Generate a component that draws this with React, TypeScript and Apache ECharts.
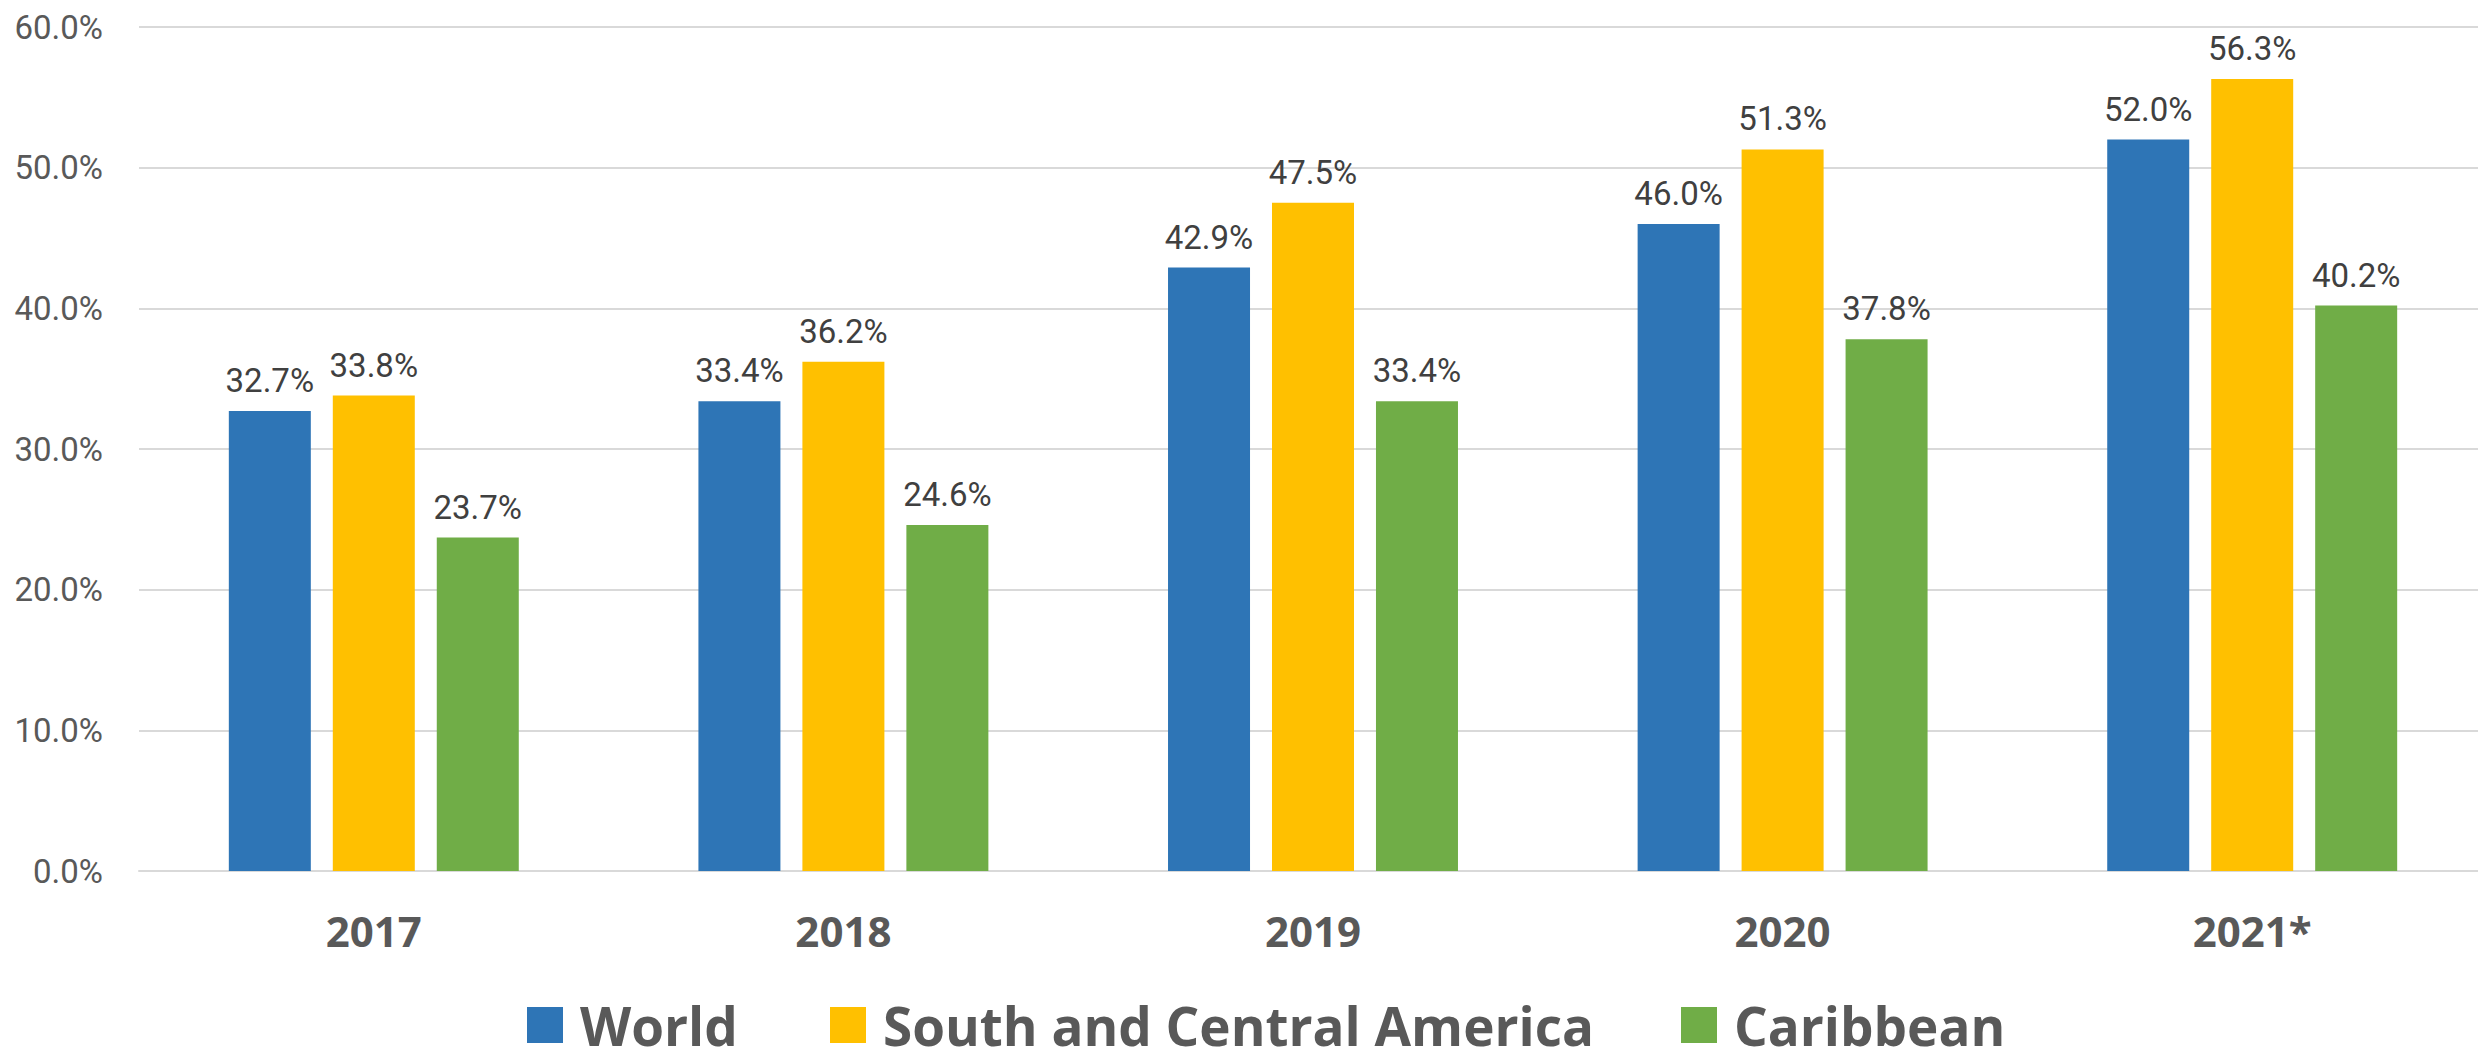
import React, { useEffect, useRef } from "react";
import * as echarts from "echarts";

const categories = ["2017", "2018", "2019", "2020", "2021*"];
const seriesNames = ["World", "South and Central America", "Caribbean"];
const worldValues = [32.7, 33.4, 42.9, 46.0, 52.0];
const southCentralValues = [33.8, 36.2, 47.5, 51.3, 56.3];
const caribbeanValues = [23.7, 24.6, 33.4, 37.8, 40.2];
const colors = ["#2E75B6", "#FFC000", "#70AD47"];
const legendLefts = [527, 830, 1681];

const LABEL_FONT = "'Liberation Sans Narrow', Roboto, sans-serif";
const BOLD_FONT = "'Open Sans', 'Noto Sans', sans-serif";

export default function App() {
  const ref = useRef<HTMLDivElement>(null);
  useEffect(() => {
    if (!ref.current) return;
    const chart = echarts.init(ref.current, undefined, { renderer: "svg" });
    const values = [worldValues, southCentralValues, caribbeanValues];
    chart.setOption({
      animation: false,
      grid: { left: 139, right: 0, top: 27, bottom: 177, containLabel: false },
      legend: seriesNames.map((n, i) => ({
        data: [n],
        left: legendLefts[i],
        top: 998,
        padding: 0,
        icon: "rect",
        itemWidth: 36,
        itemHeight: 36,
        selectedMode: false,
        textStyle: {
          fontFamily: BOLD_FONT,
          fontWeight: "bold",
          fontSize: 53,
          color: "#595959",
          lineHeight: 36,
          padding: [0, 0, 18, 12],
        },
      })),
      xAxis: {
        type: "category",
        data: categories,
        axisLine: { show: true, lineStyle: { color: "#D9D9D9", width: 2 } },
        axisTick: { show: false },
        axisLabel: {
          fontFamily: BOLD_FONT,
          fontWeight: "bold",
          fontSize: 42,
          color: "#595959",
          margin: 38,
        },
      },
      yAxis: {
        type: "value",
        min: 0,
        max: 60,
        interval: 10,
        axisLine: { show: false },
        axisTick: { show: false },
        splitLine: { lineStyle: { color: "#D9D9D9", width: 2 } },
        axisLabel: {
          fontFamily: LABEL_FONT,
          fontSize: 33,
          color: "#595959",
          margin: 36,
          formatter: (v: number) => v.toFixed(1) + "%",
        },
      },
      series: seriesNames.map((n, i) => ({
        name: n,
        type: "bar",
        data: values[i],
        barWidth: 82,
        barGap: "26.8%",
        itemStyle: { color: colors[i] },
        label: {
          show: true,
          position: "top",
          distance: 14,
          fontFamily: LABEL_FONT,
          fontSize: 33,
          color: "#404040",
          formatter: (p: any) => Number(p.value).toFixed(1) + "%",
        },
      })),
    });
    return () => chart.dispose();
  }, []);
  return (
    <div style={{ position: "absolute", left: 0, top: 0, width: 2478, height: 1048, overflow: "hidden", background: "#fff" }}>
      <div ref={ref} style={{ width: 2487, height: 1048 }} />
    </div>
  );
}
